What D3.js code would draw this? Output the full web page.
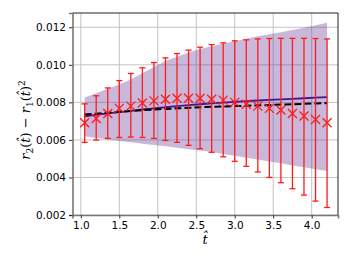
<!DOCTYPE html>
<html>
<head>
<meta charset="utf-8">
<script src="https://cdn.jsdelivr.net/npm/d3@7"></script>
<style>
  body { margin: 0; background: #fff; }
  svg { display: block; }
  .tick text { font-family: "DejaVu Sans", sans-serif; font-size: 10.5px; fill: #000; }
</style>
</head>
<body>
<svg id="chart" width="352" height="264"></svg>
<script>
// sample times
var tVals = [1.05, 1.2, 1.35, 1.5, 1.65, 1.8, 1.95, 2.1, 2.25, 2.4, 2.55,
             2.7, 2.85, 3.0, 3.15, 3.3, 3.45, 3.6, 3.75, 3.9, 4.05, 4.2];

// measured points (red x) with error bar limits
var measured = [0.00691, 0.00714, 0.00741, 0.00768, 0.0078, 0.00797, 0.00808, 0.00817,
                0.00822, 0.00822, 0.00822, 0.00817, 0.00812, 0.008, 0.0079, 0.0078,
                0.00768, 0.00759, 0.00741, 0.00727, 0.00709, 0.00691];
var errTop = [0.00792, 0.00835, 0.00877, 0.00916, 0.00954, 0.00984, 0.01012, 0.01037,
              0.0106, 0.01078, 0.01094, 0.01108, 0.01117, 0.01128, 0.01133, 0.01138,
              0.0114, 0.01141, 0.01141, 0.01141, 0.0114, 0.01138];
var errBottom = [0.00587, 0.00599, 0.00608, 0.00613, 0.00615, 0.00613, 0.00608, 0.00597,
                 0.00587, 0.00571, 0.00553, 0.00534, 0.0051, 0.00486, 0.00459, 0.00429,
                 0.004, 0.00372, 0.0034, 0.00306, 0.00274, 0.0024];

// model mean (purple) and band
var modelMean = [0.00725, 0.00733, 0.00741, 0.00748, 0.00755, 0.00762, 0.00768, 0.00774,
                 0.0078, 0.00785, 0.0079, 0.00795, 0.00799, 0.00803, 0.00807, 0.0081,
                 0.00813, 0.00816, 0.00819, 0.00822, 0.00825, 0.00828];
var bandUpper = [0.00826, 0.00848, 0.00872, 0.00895, 0.00922, 0.00955, 0.00988, 0.0102,
                 0.01043, 0.01065, 0.01084, 0.01099, 0.01113, 0.01126, 0.01139, 0.01152,
                 0.01163, 0.01174, 0.01186, 0.01198, 0.01211, 0.01224];
var bandLower = [0.00619, 0.0061, 0.00602, 0.00594, 0.00587, 0.0058, 0.00573, 0.00566,
                 0.00558, 0.0055, 0.00543, 0.00535, 0.00525, 0.00515, 0.00505, 0.00495,
                 0.00485, 0.00475, 0.00464, 0.00454, 0.00444, 0.00434];

// dashed black reference curve
var reference = [0.00735, 0.0074, 0.00745, 0.0075, 0.00754, 0.00758, 0.00762, 0.00765,
                 0.00768, 0.00771, 0.00774, 0.00776, 0.00778, 0.0078, 0.00782, 0.00784,
                 0.00786, 0.00788, 0.0079, 0.00792, 0.00794, 0.00796];

var xTicks = [1.0, 1.5, 2.0, 2.5, 3.0, 3.5, 4.0];
var yTicks = [0.002, 0.004, 0.006, 0.008, 0.010, 0.012];

var pLeft = 72.5, pRight = 338, pTop = 13, pBottom = 215;

var x = d3.scaleLinear().domain([0.892, 4.342]).range([pLeft, pRight]);
var y = d3.scaleLinear().domain([0.002, 0.01276]).range([pBottom, pTop]);

var svg = d3.select('#chart');

var rows = tVals.map(function(t, i) {
	return { t: t, m: measured[i], hi: errTop[i], lo: errBottom[i],
	         mean: modelMean[i], up: bandUpper[i], dn: bandLower[i], ref: reference[i] };
});

// grid
svg.append('g').selectAll('line').data(xTicks).enter().append('line')
	.attr('x1', function(d) { return x(d); }).attr('x2', function(d) { return x(d); })
	.attr('y1', pTop).attr('y2', pBottom)
	.attr('stroke', '#c4c4c4').attr('stroke-width', 1);
svg.append('g').selectAll('line').data(yTicks).enter().append('line')
	.attr('x1', pLeft).attr('x2', pRight)
	.attr('y1', function(d) { return y(d); }).attr('y2', function(d) { return y(d); })
	.attr('stroke', '#c4c4c4').attr('stroke-width', 1);

// band
svg.append('path').datum(rows)
	.attr('d', d3.area().x(function(d) { return x(d.t); })
		.y0(function(d) { return y(d.dn); }).y1(function(d) { return y(d.up); }))
	.attr('fill', '#663399').attr('fill-opacity', 0.35);

// lines
svg.append('path').datum(rows)
	.attr('d', d3.line().x(function(d) { return x(d.t); }).y(function(d) { return y(d.mean); }))
	.attr('fill', 'none').attr('stroke', '#4a1290').attr('stroke-width', 1.8);
svg.append('path').datum(rows)
	.attr('d', d3.line().x(function(d) { return x(d.t); }).y(function(d) { return y(d.ref); }))
	.attr('fill', 'none').attr('stroke', '#000').attr('stroke-width', 2)
	.attr('stroke-dasharray', '7,3');

// error bars
var eb = svg.append('g').attr('stroke', '#ff1a1a').attr('stroke-width', 1.3);
eb.selectAll('.v').data(rows).enter().append('line')
	.attr('x1', function(d) { return x(d.t); }).attr('x2', function(d) { return x(d.t); })
	.attr('y1', function(d) { return y(d.lo); }).attr('y2', function(d) { return y(d.hi); });
eb.selectAll('.ct').data(rows).enter().append('line')
	.attr('x1', function(d) { return x(d.t) - 3; }).attr('x2', function(d) { return x(d.t) + 3; })
	.attr('y1', function(d) { return y(d.hi); }).attr('y2', function(d) { return y(d.hi); });
eb.selectAll('.cb').data(rows).enter().append('line')
	.attr('x1', function(d) { return x(d.t) - 3; }).attr('x2', function(d) { return x(d.t) + 3; })
	.attr('y1', function(d) { return y(d.lo); }).attr('y2', function(d) { return y(d.lo); });

// x markers
var s = 4.5;
svg.append('g').selectAll('path').data(rows).enter().append('path')
	.attr('d', function(d) {
		var cx = x(d.t), cy = y(d.m);
		return 'M' + (cx - s) + ',' + (cy - s) + 'L' + (cx + s) + ',' + (cy + s) +
		       'M' + (cx - s) + ',' + (cy + s) + 'L' + (cx + s) + ',' + (cy - s);
	})
	.attr('stroke', '#ff1a1a').attr('stroke-width', 1.3).attr('fill', 'none');

// frame
svg.append('line').attr('x1', pLeft).attr('x2', pRight).attr('y1', pTop).attr('y2', pTop)
	.attr('stroke', '#222').attr('stroke-width', 1);
svg.append('line').attr('x1', pRight).attr('x2', pRight).attr('y1', pTop).attr('y2', pBottom)
	.attr('stroke', '#222').attr('stroke-width', 1);

// axes
var xAxis = svg.append('g').attr('transform', 'translate(0,' + pBottom + ')')
	.call(d3.axisBottom(x).tickValues(xTicks).tickSize(3.5).tickPadding(3)
		.tickFormat(d3.format('.1f')));
var yAxis = svg.append('g').attr('transform', 'translate(' + pLeft + ',0)')
	.call(d3.axisLeft(y).tickValues(yTicks).tickSize(3.5).tickPadding(3)
		.tickFormat(d3.format('.3f')));
[xAxis, yAxis].forEach(function(a) {
	a.select('.domain').attr('stroke', '#777').attr('stroke-width', 1.6);
	a.selectAll('.tick line').attr('stroke', '#333');
});

// labels
svg.append('text')
	.attr('x', 205).attr('y', 244)
	.attr('text-anchor', 'middle')
	.style('font-family', '"DejaVu Serif", serif').style('font-style', 'italic')
	.style('font-size', '13px')
	.text('t\u0302');

var yl = svg.append('text')
	.attr('transform', 'translate(30,120) rotate(-90)')
	.attr('text-anchor', 'middle')
	.style('font-family', '"DejaVu Serif", serif').style('font-size', '13px');
yl.append('tspan').style('font-style', 'italic').text('r');
yl.append('tspan').attr('dy', 3).style('font-size', '9px').text('2');
yl.append('tspan').attr('dy', -3).text('(');
yl.append('tspan').style('font-style', 'italic').text('t\u0302');
yl.append('tspan').text(') \u2212 ');
yl.append('tspan').style('font-style', 'italic').text('r');
yl.append('tspan').attr('dy', 3).style('font-size', '9px').text('1');
yl.append('tspan').attr('dy', -3).text('(');
yl.append('tspan').style('font-style', 'italic').text('t\u0302');
yl.append('tspan').text(')');
yl.append('tspan').attr('dy', -5).style('font-size', '9px').text('2');
</script>
</body>
</html>
